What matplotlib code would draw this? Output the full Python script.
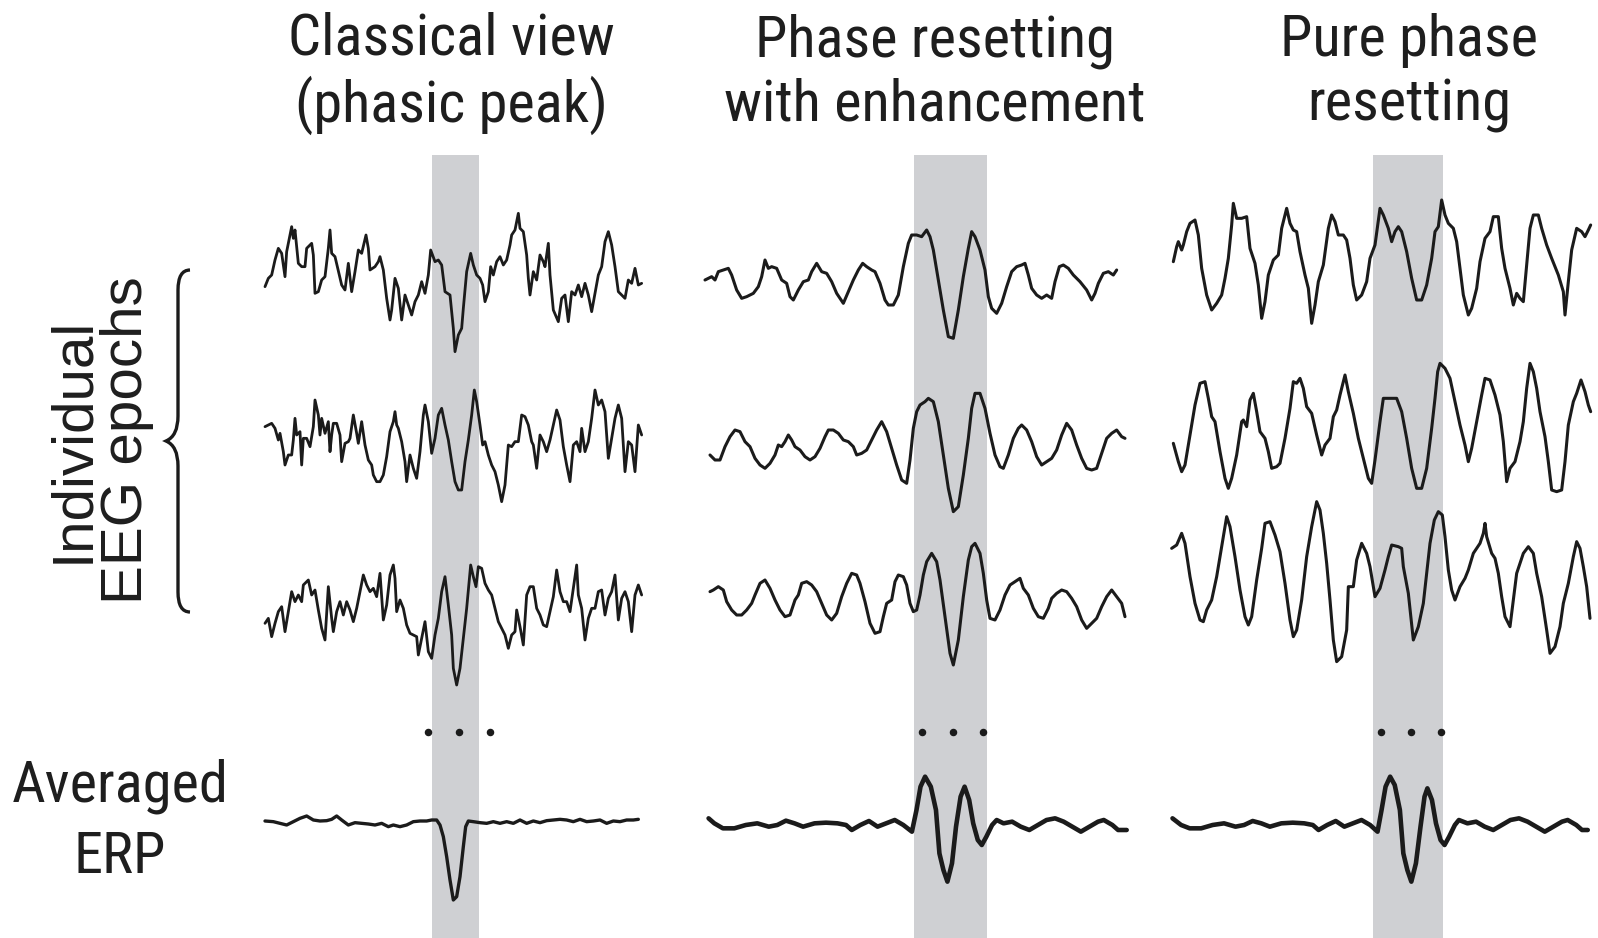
import numpy as np
import matplotlib
matplotlib.use("Agg")
import matplotlib.pyplot as plt
from matplotlib.path import Path
from matplotlib.patches import PathPatch
from matplotlib import font_manager

# ---------------- DATA (readings: time index, amplitude depth) ----------------
titles = ["Classical view\n(phasic peak)", "Phase resetting\nwith enhancement", "Pure phase\nresetting"]
left_label = "Individual\nEEG epochs"
avg_label = "Averaged\nERP"

# Column 1 : classical view (noisy epochs, phasic peak)
c1_e1 = [(15,275),(25,250),(35,240),(45,195),(55,160),(65,175),(75,245),(80,170),(95,95),(100,130),(105,105),(115,205),(125,215),(135,215),(140,160),(155,145),(160,180),(165,295),(175,290),(185,255),(195,245),(205,160),(210,105),(215,175),(225,185),(245,270),(255,285),(265,205),(275,290),(285,230),(295,165),(305,175),(318,120),(325,160),(330,225),(345,215),(355,200),(360,185),(370,225),(380,310),(390,375),(395,345),(405,250),(415,280),(425,375),(435,300),(445,330),(455,360),(465,320),(475,300),(485,260),(495,295),(505,240),(512,165),(525,200),(535,195),(545,210),(555,290),(570,300),(580,400),(585,470),(595,420),(605,400),(610,340),(620,230),(632,175),(640,210),(650,240),(660,250),(668,270),(675,320),(685,290),(692,215),(700,240),(710,200),(720,185),(730,210),(740,195),(750,150),(755,120),(765,105),(775,55),(780,100),(790,110),(800,180),(805,250),(810,300),(820,230),(830,255),(840,180),(850,200),(855,215),(865,145),(870,240),(880,345),(895,380),(905,310),(915,300),(925,380),(935,290),(945,300),(955,270),(965,305),(975,265),(985,300),(995,350),(1005,295),(1015,240),(1025,215),(1035,140),(1045,110),(1055,150),(1065,215),(1075,290),(1085,300),(1095,310),(1105,255),(1115,265),(1125,220),(1135,270),(1145,265)]
c1_e2 = [(15,155),(25,150),(35,145),(45,160),(55,195),(60,175),(70,230),(75,270),(85,240),(95,240),(100,195),(105,130),(110,180),(120,170),(125,270),(130,190),(140,190),(150,215),(160,155),(165,75),(175,120),(180,180),(185,130),(195,175),(205,140),(210,230),(215,180),(220,145),(230,145),(240,180),(245,260),(255,205),(265,200),(270,190),(280,120),(290,175),(295,205),(305,140),(315,210),(325,255),(335,270),(340,300),(350,320),(360,320),(370,300),(380,245),(390,170),(400,140),(405,110),(410,150),(415,160),(425,200),(435,260),(440,320),(450,240),(460,280),(470,310),(480,230),(490,120),(495,90),(505,140),(515,235),(525,190),(535,120),(545,100),(555,150),(565,195),(575,260),(585,320),(595,345),(605,345),(615,260),(625,195),(635,120),(643,45),(650,80),(660,150),(668,210),(675,200),(685,240),(695,270),(705,290),(715,330),(725,380),(735,330),(745,210),(755,215),(765,200),(775,200),(785,120),(795,125),(805,150),(815,200),(820,210),(830,280),(840,180),(850,200),(860,230),(870,195),(880,150),(890,105),(900,135),(910,215),(920,270),(930,320),(940,210),(950,200),(960,230),(965,160),(975,230),(985,200),(995,130),(1005,45),(1015,90),(1025,75),(1035,110),(1045,250),(1055,190),(1065,130),(1075,90),(1085,130),(1095,290),(1105,200),(1115,210),(1125,290),(1135,150),(1145,180)]
c1_e3 = [(15,295),(25,280),(35,335),(45,295),(55,260),(65,245),(75,320),(85,260),(95,200),(105,230),(115,210),(125,230),(130,180),(145,165),(155,210),(165,195),(175,255),(185,310),(195,345),(205,185),(215,280),(220,320),(230,260),(240,230),(250,270),(260,230),(270,255),(280,290),(290,250),(300,200),(310,150),(320,180),(330,200),(340,190),(350,215),(360,145),(370,285),(380,240),(390,150),(400,120),(405,160),(410,260),(420,225),(430,250),(440,300),(450,325),(460,330),(470,335),(475,390),(485,340),(495,290),(505,380),(515,400),(525,330),(535,280),(545,200),(555,155),(565,240),(575,330),(580,430),(590,480),(600,430),(610,340),(620,250),(632,120),(640,155),(648,185),(655,125),(665,130),(675,175),(685,195),(695,210),(705,250),(715,290),(725,310),(735,330),(745,370),(755,330),(765,320),(770,255),(780,305),(790,360),(800,210),(810,185),(820,185),(830,250),(840,270),(850,300),(860,305),(870,260),(880,215),(890,135),(900,200),(910,230),(920,230),(930,260),(940,190),(950,120),(955,210),(965,250),(975,345),(985,280),(995,250),(1005,250),(1015,200),(1025,195),(1035,270),(1045,220),(1055,200),(1065,150),(1075,285),(1085,220),(1095,200),(1105,230),(1115,320),(1125,210),(1135,180),(1145,210)]
c1_avg = [(15,183),(40,185),(60,190),(80,195),(100,185),(120,175),(140,168),(160,180),(180,183),(200,182),(215,178),(230,168),(245,180),(265,195),(285,188),(305,190),(325,192),(345,195),(365,190),(385,200),(400,195),(420,200),(440,195),(460,185),(480,183),(500,183),(515,180),(530,180),(540,195),(550,230),(560,290),(570,360),(580,420),(590,410),(600,350),(610,260),(617,200),(625,183),(640,185),(660,188),(680,190),(700,185),(720,190),(740,185),(760,190),(780,180),(800,190),(820,183),(840,188),(860,182),(880,180),(900,178),(920,180),(940,185),(960,178),(980,185),(1000,183),(1020,180),(1040,190),(1060,183),(1080,185),(1100,180),(1120,180),(1135,178)]

# Column 2 : phase resetting with enhancement
c2_e1 = [(15,240),(25,235),(35,230),(45,240),(55,215),(70,210),(85,205),(95,225),(110,270),(125,295),(140,290),(160,280),(175,260),(185,230),(195,180),(205,205),(215,200),(230,205),(245,240),(260,250),(270,290),(280,300),(295,270),(310,245),(325,240),(335,215),(350,190),(365,215),(380,220),(395,245),(410,280),(430,310),(445,275),(460,240),(475,210),(488,190),(500,200),(515,210),(525,215),(540,250),(555,300),(565,315),(580,315),(595,285),(610,200),(625,130),(635,105),(650,105),(665,110),(680,90),(690,110),(700,150),(715,240),(730,330),(745,410),(760,415),(775,330),(790,230),(805,145),(815,95),(825,110),(840,150),(855,210),(865,290),(875,325),(890,340),(905,310),(920,260),(935,215),(950,200),(965,195),(975,190),(985,225),(995,265),(1010,285),(1025,295),(1040,285),(1055,295),(1065,245),(1078,200),(1090,195),(1105,205),(1120,225),(1140,245),(1160,270),(1175,300),(1185,280),(1195,250),(1210,220),(1225,215),(1240,225),(1250,210)]
c2_e2 = [(30,240),(45,255),(60,255),(75,215),(90,185),(105,165),(120,170),(135,200),(150,215),(165,250),(180,270),(195,280),(210,265),(225,240),(235,210),(245,215),(255,200),(265,180),(275,195),(285,215),(300,225),(315,245),(330,255),(345,245),(360,220),(375,185),(385,165),(400,165),(415,175),(430,195),(445,200),(460,215),(470,240),(485,235),(500,225),(515,195),(530,165),(545,140),(560,170),(575,220),(590,270),(605,315),(620,325),(630,255),(640,160),(650,110),(660,90),(675,80),(685,70),(700,80),(715,140),(730,240),(745,340),(760,410),(775,395),(790,300),(805,190),(815,100),(825,55),(840,55),(855,100),(870,175),(885,240),(900,275),(910,280),(925,240),(940,190),(955,160),(965,150),(980,165),(995,200),(1010,245),(1025,270),(1040,260),(1055,250),(1070,225),(1085,180),(1100,145),(1115,165),(1130,210),(1145,250),(1160,280),(1175,285),(1190,280),(1205,235),(1220,190),(1235,175),(1250,165),(1265,185),(1275,190)]
c2_e3 = [(30,215),(40,210),(55,200),(70,210),(80,245),(95,270),(110,285),(125,285),(140,270),(155,250),(165,225),(180,190),(195,180),(210,205),(225,240),(240,270),(255,290),(270,285),(285,240),(295,225),(305,190),(320,185),(335,195),(350,215),(365,250),(380,285),(395,300),(410,280),(425,230),(440,190),(455,160),(470,165),(480,190),(495,245),(510,310),(525,340),(540,335),(550,290),(560,250),(575,240),(585,185),(595,165),(610,170),(620,195),(630,250),(640,275),(650,270),(660,225),(670,165),(680,125),(695,100),(710,125),(720,180),(735,290),(750,400),(760,435),(775,360),(790,230),(805,120),(815,80),(825,70),(840,100),(850,160),(860,240),(870,295),(885,300),(900,270),(915,225),(930,195),(945,185),(960,175),(970,205),(985,225),(1000,265),(1015,290),(1030,295),(1045,265),(1055,235),(1070,220),(1085,210),(1100,215),(1115,235),(1130,260),(1145,300),(1160,325),(1175,310),(1190,295),(1205,260),(1220,230),(1235,210),(1250,230),(1265,250),(1275,290)]
c2_avg = [(15,175),(25,190),(40,205),(60,205),(80,195),(100,190),(120,200),(135,195),(150,182),(165,190),(180,200),(200,190),(220,188),(240,190),(255,195),(265,210),(280,195),(295,183),(310,200),(325,190),(340,180),(355,195),(370,215),(378,150),(385,80),(393,50),(403,80),(412,150),(418,280),(425,330),(432,365),(440,310),(447,200),(455,110),(462,80),(470,120),(477,190),(485,240),(492,255),(500,230),(510,195),(518,180),(530,190),(545,185),(560,200),(575,210),(590,195),(605,180),(620,175),(635,185),(650,200),(665,215),(680,200),(695,185),(705,180),(720,195),(730,210),(745,210)]

# Column 3 : pure phase resetting
c3_e1 = [(25,230),(35,185),(40,170),(50,195),(55,180),(65,140),(75,115),(90,105),(100,150),(110,250),(125,330),(140,375),(155,355),(170,330),(180,280),(190,220),(200,120),(205,55),(215,100),(230,100),(245,95),(255,190),(270,235),(280,300),(290,400),(300,350),(310,270),(325,225),(340,210),(350,130),(365,70),(375,115),(385,135),(395,140),(405,200),(420,270),(430,310),(440,415),(450,360),(460,290),(475,240),(490,130),(500,90),(510,110),(520,150),(535,150),(545,165),(555,220),(565,300),(575,345),(590,330),(605,290),(615,220),(630,180),(645,70),(655,90),(670,130),(680,170),(690,140),(700,125),(710,140),(725,200),(740,280),(755,345),(770,345),(785,300),(800,220),(810,140),(820,125),(830,45),(840,90),(850,115),(865,130),(875,170),(885,250),(895,330),(910,390),(920,370),(935,310),(945,230),(960,160),(975,140),(985,95),(1000,95),(1010,190),(1020,250),(1035,310),(1045,360),(1055,325),(1065,340),(1075,350),(1085,240),(1095,130),(1105,90),(1120,90),(1130,130),(1145,180),(1160,220),(1180,270),(1195,320),(1200,390),(1210,290),(1220,195),(1235,130),(1250,140),(1260,155),(1270,135),(1277,120)]
c3_e2 = [(25,265),(40,320),(50,350),(60,330),(75,240),(90,150),(105,85),(120,80),(130,130),(140,185),(150,200),(165,290),(180,370),(190,400),(200,370),(215,300),(230,200),(235,195),(245,215),(255,135),(265,115),(275,170),(285,230),(300,250),(310,290),(320,340),(335,335),(345,325),(360,250),(375,160),(385,80),(395,85),(405,70),(415,100),(425,155),(440,175),(455,240),(470,300),(480,270),(495,250),(505,185),(515,165),(525,120),(540,60),(550,110),(565,175),(580,250),(595,310),(610,370),(620,385),(630,315),(645,200),(655,130),(665,130),(680,130),(695,130),(710,170),(725,250),(740,340),(755,400),(770,400),(785,340),(800,220),(810,130),(818,50),(825,25),(840,40),(855,70),(870,140),(885,210),(900,270),(910,320),(920,280),(935,200),(950,120),(960,70),(975,75),(990,120),(1005,180),(1015,260),(1025,380),(1035,340),(1050,320),(1065,260),(1075,200),(1085,100),(1095,25),(1105,50),(1115,100),(1125,170),(1140,245),(1150,320),(1160,405),(1175,410),(1190,405),(1200,320),(1210,210),(1225,140),(1235,115),(1248,75),(1260,110),(1270,150),(1277,170)]
c3_e3 = [(20,175),(35,165),(50,130),(60,160),(75,260),(90,340),(105,390),(115,395),(125,360),(140,330),(155,260),(170,170),(185,80),(195,110),(210,200),(225,300),(240,380),(250,405),(260,380),(275,270),(290,175),(300,100),(315,95),(330,135),(345,185),(360,280),(375,390),(385,440),(395,420),(410,330),(425,200),(440,110),(455,35),(465,60),(475,130),(485,220),(495,330),(505,450),(515,515),(530,500),(545,420),(550,290),(565,290),(575,210),(590,160),(605,190),(615,230),(630,320),(645,295),(660,240),(670,200),(680,165),(700,170),(710,175),(715,230),(730,310),(745,450),(760,410),(775,340),(785,250),(795,160),(808,90),(820,65),(832,75),(840,140),(850,240),(860,300),(870,330),(885,290),(900,265),(910,240),(925,190),(945,160),(955,130),(960,100),(965,140),(980,190),(990,205),(1000,250),(1010,320),(1020,380),(1035,410),(1045,330),(1055,250),(1075,190),(1090,170),(1105,190),(1115,250),(1130,320),(1145,420),(1155,490),(1170,470),(1185,410),(1195,340),(1210,280),(1225,200),(1235,155),(1245,175),(1255,230),(1265,290),(1275,385)]
c3_avg = [(825,175),(840,195),(855,205),(875,205),(895,195),(915,190),(935,200),(950,195),(965,183),(980,190),(995,200),(1015,190),(1035,188),(1055,190),(1070,195),(1080,210),(1095,195),(1110,183),(1125,200),(1140,190),(1155,180),(1170,195),(1183,215),(1190,150),(1197,80),(1205,50),(1213,75),(1222,150),(1228,280),(1235,330),(1242,365),(1250,310),(1258,200),(1265,110),(1270,85),(1278,120),(1285,190),(1293,240),(1300,255),(1308,230),(1318,195),(1325,180),(1340,190),(1355,185),(1370,200),(1385,210),(1400,195),(1415,180),(1430,175),(1445,185),(1460,200),(1475,215),(1490,200),(1505,185),(1515,180),(1530,195),(1540,210),(1550,210)]

# ---------------- LAYOUT (positions / styles) ----------------
W, H = 1598, 938
LINE = "#1b1b1b"
BAND = "#cfd0d3"
TXT = "#1e1e1e"

installed = {f.name for f in font_manager.fontManager.ttflist}
if "Roboto Condensed" in installed:
    NARROW, TSIZE = ["Roboto Condensed", "DejaVu Sans"], 42
elif "Liberation Sans Narrow" in installed:
    NARROW, TSIZE = ["Liberation Sans Narrow", "DejaVu Sans"], 43
else:
    NARROW, TSIZE = ["Roboto", "DejaVu Sans"], 37
REG = ["Liberation Sans", "DejaVu Sans"]

# (trace, x-origin, y-origin, x-scale, y-scale, linewidth)
traces = [
    (c1_e1, 260, 195, 3.0, 3.0, 2.0),
    (c1_e2, 260, 375, 3.0, 3.0, 2.0),
    (c1_e3, 260, 525, 3.0, 3.0, 2.0),
    (c1_avg, 260, 760, 3.0, 3.0, 2.4),
    (c2_e1, 700, 200, 3.0, 3.0, 2.2),
    (c2_e2, 700, 375, 3.0, 3.0, 2.2),
    (c2_e3, 700, 520, 3.0, 3.0, 2.2),
    (c2_avg, 700, 760, 1.746, 3.0, 3.3),
    (c3_e1, 1165, 185, 3.0, 3.0, 2.2),
    (c3_e2, 1165, 355, 3.0, 3.0, 2.2),
    (c3_e3, 1165, 490, 3.0, 3.0, 2.2),
    (c3_avg, 700, 760, 1.746, 3.0, 3.3),
]
bands = [(432, 479), (914, 987), (1373, 1443)]
band_top = 155
title_x = [451, 935, 1409]
dots_x = [(428, 459, 490), (922, 953, 983), (1381, 1411, 1441)]
dots_y = 732

fig = plt.figure(figsize=(W / 100, H / 100), dpi=100)
ax = fig.add_axes([0, 0, 1, 1])
ax.set_xlim(0, W)
ax.set_ylim(H, 0)
ax.axis("off")

for x0, x1 in bands:
    ax.fill_between([x0, x1], band_top, H, color=BAND, lw=0, zorder=0)

for data, ox, oy, sx, sy, lw in traces:
    arr = np.array(data, dtype=float)
    ax.plot(ox + arr[:, 0] / sx, oy + arr[:, 1] / sy, color=LINE, lw=lw,
            solid_joinstyle="round", solid_capstyle="round", zorder=3)

for xs in dots_x:
    ax.plot(xs, [dots_y] * 3, "o", color=LINE, ms=4.4, zorder=3)

for t, x in zip(titles, title_x):
    ax.text(x, 73, t, ha="center", va="center", fontsize=TSIZE, family=NARROW,
            color=TXT, linespacing=1.2)

ax.text(100, 440, left_label, ha="center", va="center", rotation=90, fontsize=42,
        family=REG, color=TXT, linespacing=1.0)
ax.text(120, 822, avg_label, ha="center", va="center", fontsize=TSIZE, family=NARROW,
        color=TXT, linespacing=1.38)

# curly brace (pointing left)
bx, btop, bbot, bmid = 190, 270, 612, 441
d = 12
verts = [(bx, btop), (bx - d, btop), (bx - d, btop + 20), (bx - d, btop + 40),
         (bx - d, bmid - 25), (bx - d, bmid - 5), (bx - 2 * d, bmid),
         (bx - d, bmid + 5), (bx - d, bmid + 25),
         (bx - d, bbot - 40), (bx - d, bbot - 20), (bx - d, bbot), (bx, bbot)]
codes = [Path.MOVETO, Path.CURVE3, Path.CURVE3, Path.LINETO,
         Path.LINETO, Path.CURVE3, Path.CURVE3, Path.CURVE3, Path.CURVE3,
         Path.LINETO, Path.LINETO, Path.CURVE3, Path.CURVE3]
ax.add_patch(PathPatch(Path(verts, codes), fill=False, ec=LINE, lw=2.4, zorder=3))

fig.savefig("out.png", dpi=100)
